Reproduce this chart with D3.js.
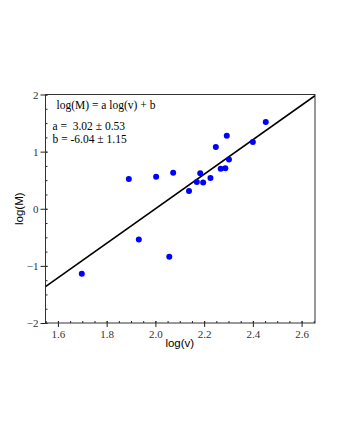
<!DOCTYPE html>
<html>
<head>
<meta charset="utf-8">
<script src="https://cdn.jsdelivr.net/npm/d3@7"></script>
<style>
  body { margin: 0; background: #fff; }
  .tick text { font-family: "Liberation Serif", "Times New Roman", serif; font-size: 11px; fill: #333; }
</style>
</head>
<body>
<script>
// data: log(v), log(M)
var logV = [1.698, 1.891, 1.932, 2.003, 2.057, 2.073, 2.138, 2.170, 2.184, 2.196,
            2.226, 2.248, 2.268, 2.287, 2.293, 2.302, 2.400, 2.453];
var logM = [-1.14, 0.52, -0.54, 0.56, -0.84, 0.63, 0.31, 0.47, 0.62, 0.46,
            0.54, 1.08, 0.70, 0.71, 1.28, 0.86, 1.17, 1.52];
var fitA = 3.02, fitB = -6.04;
var xTicks = [1.6, 1.8, 2.0, 2.2, 2.4, 2.6];
var yTicks = [-2, -1, 0, 1, 2];
var textLines = ["log(M) = a log(v) + b", "a =  3.02 \u00b1 0.53", "b = -6.04 \u00b1 1.15"];

var svgWidth = 340, svgHeight = 440;
var margin = {top: 94.5, right: 25, bottom: 117, left: 45.5};
var width = svgWidth - margin.left - margin.right;
var height = svgHeight - margin.top - margin.bottom;

var svg = d3.select("body").append("svg")
  .attr("width", svgWidth)
  .attr("height", svgHeight);

var chart = svg.append("g")
  .attr("transform", `translate(${margin.left}, ${margin.top})`);

var x = d3.scaleLinear().domain([1.549, 2.655]).range([0, width]);
var y = d3.scaleLinear().domain([-2, 2]).range([height, 0]);

// minor ticks
var xMinor = d3.range(1.55, 2.651, 0.05);
var yMinor = d3.range(-2, 2.001, 0.25);

chart.append("g")
  .attr("transform", `translate(0, ${height})`)
  .call(d3.axisBottom(x).tickValues(xMinor).tickSize(-2).tickFormat(""))
  .call(g => g.select(".domain").remove())
  .selectAll("line").attr("stroke", "#222");

chart.append("g")
  .call(d3.axisLeft(y).tickValues(yMinor).tickSize(-2).tickFormat(""))
  .call(g => g.select(".domain").remove())
  .selectAll("line").attr("stroke", "#222");

// major ticks
var xAxis = chart.append("g")
  .attr("transform", `translate(0, ${height})`)
  .call(d3.axisBottom(x).tickValues(xTicks).tickSize(4).tickPadding(3).tickFormat(d3.format(".1f")));
xAxis.select(".domain").remove();
xAxis.selectAll("line").attr("y1", -2).attr("stroke", "#222");

var yAxis = chart.append("g")
  .call(d3.axisLeft(y).tickValues(yTicks).tickSize(5).tickPadding(2).tickFormat(d => d < 0 ? "\u2212" + Math.abs(d) : d));
yAxis.select(".domain").remove();
yAxis.selectAll("line").attr("x1", 2).attr("stroke", "#222");

// frame
chart.append("rect")
  .attr("width", width)
  .attr("height", height)
  .attr("fill", "none")
  .attr("stroke", "#333")
  .attr("stroke-width", 1);

// fitted line
chart.append("clipPath").attr("id", "clip")
  .append("rect").attr("width", width).attr("height", height);

chart.append("line")
  .attr("clip-path", "url(#clip)")
  .attr("x1", x(x.domain()[0]))
  .attr("y1", y(fitA * x.domain()[0] + fitB))
  .attr("x2", x(x.domain()[1]))
  .attr("y2", y(fitA * x.domain()[1] + fitB))
  .attr("stroke", "#000")
  .attr("stroke-width", 1.6);

// points
chart.selectAll("circle")
  .data(logV)
  .enter()
  .append("circle")
  .attr("cx", d => x(d))
  .attr("cy", (d, i) => y(logM[i]))
  .attr("r", 3)
  .attr("fill", "#0000ff");

// fit text
chart.selectAll(".fitText")
  .data(textLines)
  .enter()
  .append("text")
  .attr("class", "fitText")
  .attr("x", (d, i) => i == 0 ? 11 : 7)
  .attr("y", (d, i) => [14, 35, 48][i])
  .attr("font-family", "Liberation Serif, Times New Roman, serif")
  .attr("font-size", 11.5)
  .style("white-space", "pre")
  .text(d => d);

// axis labels
svg.append("text")
  .attr("x", margin.left + x(2.1))
  .attr("y", 347)
  .attr("text-anchor", "middle")
  .attr("font-family", "Liberation Sans, Arial, sans-serif")
  .attr("font-size", 11.5)
  .text("log(v)");

svg.append("text")
  .attr("transform", `translate(23, ${margin.top + y(0)}) rotate(-90)`)
  .attr("text-anchor", "middle")
  .attr("font-family", "Liberation Sans, Arial, sans-serif")
  .attr("font-size", 11.5)
  .text("log(M)");
</script>
</body>
</html>
